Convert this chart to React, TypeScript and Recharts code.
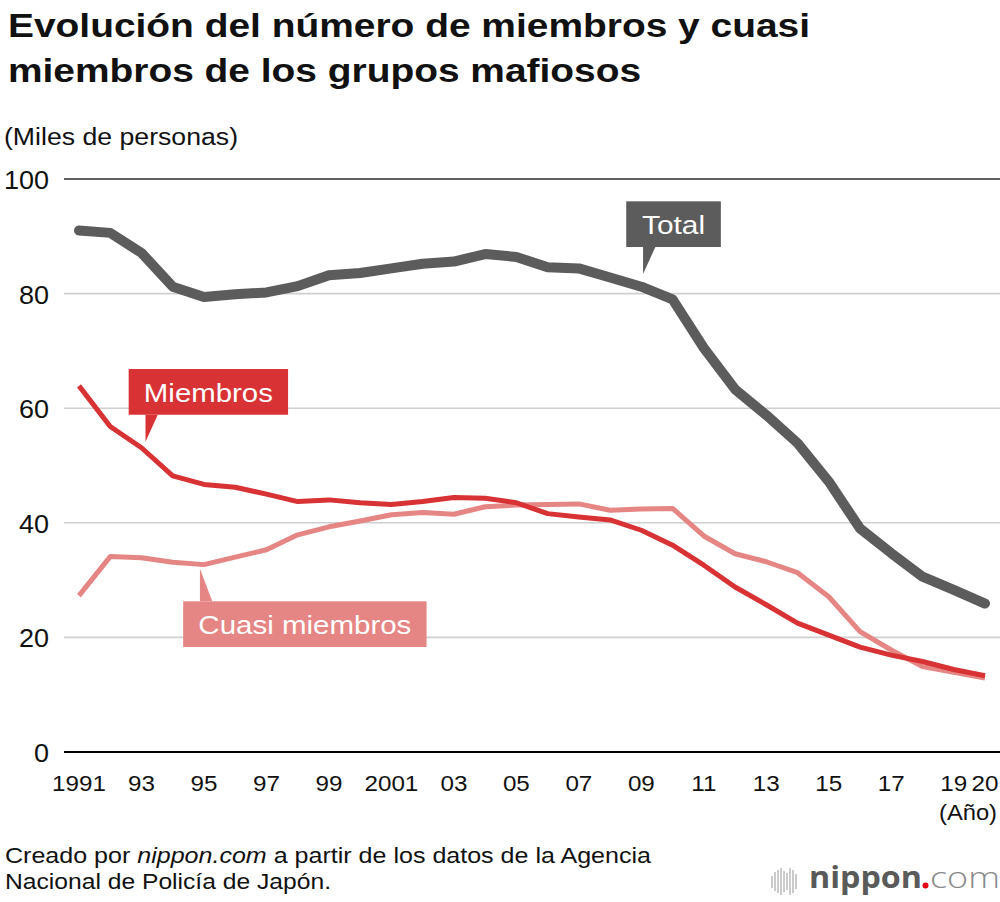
import React from 'react';
import {
  LineChart,
  Line,
  XAxis,
  YAxis,
  CartesianGrid,
  ReferenceLine,
  ReferenceDot,
} from 'recharts';

// miles de personas, 1991-2020 (Agencia Nacional de Policía de Japón)
const years = [
  1991, 1992, 1993, 1994, 1995, 1996, 1997, 1998, 1999, 2000,
  2001, 2002, 2003, 2004, 2005, 2006, 2007, 2008, 2009, 2010,
  2011, 2012, 2013, 2014, 2015, 2016, 2017, 2018, 2019, 2020,
];
const totalValues = [
  91.0, 90.6, 87.1, 81.2, 79.4, 79.9, 80.2, 81.3, 83.2, 83.6,
  84.4, 85.2, 85.6, 86.9, 86.4, 84.6, 84.4, 82.8, 81.2, 79.0,
  70.5, 63.3, 58.8, 53.9, 47.2, 39.0, 34.7, 30.6, 28.3, 25.9,
];
const memberValues = [
  63.9, 56.8, 53.1, 48.2, 46.7, 46.2, 45.0, 43.7, 44.0, 43.5,
  43.2, 43.7, 44.4, 44.3, 43.5, 41.6, 41.0, 40.5, 38.7, 36.1,
  32.6, 28.8, 25.7, 22.5, 20.4, 18.3, 16.9, 15.8, 14.4, 13.3,
];
const quasiValues = [
  27.3, 34.1, 33.9, 33.1, 32.7, 34.0, 35.3, 37.9, 39.3, 40.3,
  41.4, 41.8, 41.5, 42.8, 43.1, 43.2, 43.3, 42.2, 42.4, 42.5,
  37.7, 34.6, 33.2, 31.3, 27.1, 21.0, 17.8, 14.9, 13.9, 12.9,
];
const xTicks = [1991, 1993, 1995, 1997, 1999, 2001, 2003, 2005, 2007, 2009, 2011, 2013, 2015, 2017, 2019, 2020];
const xTickLabels = ['1991', '93', '95', '97', '99', '2001', '03', '05', '07', '09', '11', '13', '15', '17', '19', '20'];
const yTicks = [0, 20, 40, 60, 80, 100];

const data = years.map((year, i) => ({
  year,
  total: totalValues[i],
  members: memberValues[i],
  quasi: quasiValues[i],
}));

const FONT = '"Liberation Sans", Arial, Helvetica, sans-serif';
const GRAY = '#5c5c5c';
const RED = '#d83234';
const PINK = '#e58584';

const XTick = (props: any) => {
  const { x, y, payload } = props;
  const idx = xTicks.indexOf(payload.value);
  return (
    <g transform={`translate(${x},${y + 39})`}>
      <text textAnchor="middle" fontSize={22} fill="#111" fontFamily={FONT} transform="scale(1.1,1)">
        {xTickLabels[idx]}
      </text>
    </g>
  );
};

const YTick = (props: any) => {
  const { x, y, payload } = props;
  return (
    <g transform={`translate(${x - 15},${y + 10})`}>
      <text textAnchor="end" fontSize={25} fill="#111" fontFamily={FONT} transform="scale(1.08,1)">
        {payload.value}
      </text>
    </g>
  );
};

// callout box with a pointer; (dx, dy) moves the pointer tip away from the data point
const makeCallout = (opts: {
  label: string; color: string; dx: number; dy: number;
  w: number; textW: number; up: boolean;
}) => (props: any) => {
  const { cx, cy } = props;
  const tx = cx + opts.dx;
  const ty = cy + opts.dy;
  const h = 45.7;
  const gap = opts.up ? 27 : 32.7;
  const bx = tx - 16.8;
  const by = opts.up ? ty - gap - h : ty + gap;
  const baseY = opts.up ? ty - gap : ty + gap;
  return (
    <g>
      <polygon points={`${tx},${ty} ${tx},${baseY} ${tx + 12.3},${baseY}`} fill={opts.color} />
      <rect x={bx} y={by} width={opts.w} height={h} fill={opts.color} />
      <text
        x={bx + opts.w / 2}
        y={by + h - 13}
        textAnchor="middle"
        fontSize={26}
        fill="#fff"
        fontFamily={FONT}
        textLength={opts.textW}
        lengthAdjust="spacingAndGlyphs"
      >
        {opts.label}
      </text>
    </g>
  );
};

const TotalCallout = makeCallout({ label: 'Total', color: GRAY, dx: 1.7, dy: -12.7, w: 94.6, textW: 63, up: true });
const MembersCallout = makeCallout({ label: 'Miembros', color: RED, dx: 4, dy: -6, w: 159.4, textW: 129, up: true });
const QuasiCallout = makeCallout({ label: 'Cuasi miembros', color: PINK, dx: -4, dy: 4, w: 243.4, textW: 213, up: false });

const LogoBars = () => {
  const bars = [
    [772, 876, 888], [775, 872, 891], [778, 870, 893], [781, 868, 895],
    [784, 871, 892], [787, 873, 890], [790, 868, 895], [793, 870, 893], [796, 874, 889],
  ];
  return (
    <g>
      {bars.map(([x, y1, y2], i) => (
        <line key={i} x1={x} x2={x} y1={y1} y2={y2} stroke="#b5b5b5" strokeWidth={1.4} />
      ))}
    </g>
  );
};

const App: React.FC = () => {
  return (
    <div style={{ position: 'relative', width: 1000, height: 902, background: '#fff', fontFamily: FONT }}>
      <style>{'body{margin:0}'}</style>
      <LineChart
        width={1000}
        height={902}
        data={data}
        margin={{ top: 179, right: 0, bottom: 120, left: 0 }}
        style={{ position: 'absolute', left: 0, top: 0 }}
      >
        <CartesianGrid vertical={false} stroke="#cfcfcf" strokeWidth={1.6} />
        <XAxis
          dataKey="year"
          type="number"
          domain={[1990.52, 2020.48]}
          ticks={xTicks}
          interval={0}
          tick={<XTick />}
          tickLine={false}
          tickSize={0}
          tickMargin={0}
          height={30}
          axisLine={{ stroke: '#000', strokeWidth: 2 }}
          allowDataOverflow
        />
        <YAxis
          type="number"
          domain={[0, 100]}
          ticks={yTicks}
          interval={0}
          tick={<YTick />}
          tickLine={false}
          tickSize={0}
          tickMargin={0}
          axisLine={false}
          width={64}
        />
        <ReferenceLine y={100} stroke="#606060" strokeWidth={2} />
        <Line
          type="linear"
          dataKey="quasi"
          stroke={PINK}
          strokeWidth={5}
          dot={false}
          activeDot={false}
          strokeLinejoin="round"
          isAnimationActive={false}
        />
        <Line
          type="linear"
          dataKey="members"
          stroke={RED}
          strokeWidth={5}
          dot={false}
          activeDot={false}
          strokeLinejoin="round"
          isAnimationActive={false}
        />
        <Line
          type="linear"
          dataKey="total"
          stroke={GRAY}
          strokeWidth={10}
          dot={false}
          activeDot={false}
          strokeLinejoin="round"
          strokeLinecap="round"
          isAnimationActive={false}
        />
        <ReferenceDot x={2009} y={totalValues[18]} r={0} shape={TotalCallout} />
        <ReferenceDot x={1993} y={memberValues[2]} r={0} shape={MembersCallout} />
        <ReferenceDot x={1995} y={quasiValues[4]} r={0} shape={QuasiCallout} />
      </LineChart>

      <svg
        width={1000}
        height={902}
        style={{ position: 'absolute', left: 0, top: 0, pointerEvents: 'none' }}
      >
        <text x={8} y={37} fontSize={34} fontWeight="bold" fill="#111" fontFamily={FONT}
          textLength={802} lengthAdjust="spacingAndGlyphs">
          Evolución del número de miembros y cuasi
        </text>
        <text x={8} y={82} fontSize={34} fontWeight="bold" fill="#111" fontFamily={FONT}
          textLength={633} lengthAdjust="spacingAndGlyphs">
          miembros de los grupos mafiosos
        </text>
        <text x={4} y={145} fontSize={23} fill="#111" fontFamily={FONT}
          textLength={234} lengthAdjust="spacingAndGlyphs">
          (Miles de personas)
        </text>
        <text x={997} y={820} fontSize={22} fill="#111" fontFamily={FONT} textAnchor="end"
          textLength={58} lengthAdjust="spacingAndGlyphs">
          (Año)
        </text>
        <text x={5} y={863} fontSize={22} fill="#111" fontFamily={FONT}
          textLength={646} lengthAdjust="spacingAndGlyphs">
          Creado por <tspan fontStyle="italic">nippon.com</tspan> a partir de los datos de la Agencia
        </text>
        <text x={5} y={889} fontSize={22} fill="#111" fontFamily={FONT}
          textLength={326} lengthAdjust="spacingAndGlyphs">
          Nacional de Policía de Japón.
        </text>
        <LogoBars />
        <text x={809} y={888} fontSize={30} fontWeight={700} fill="#5a5a5a" fontFamily='"Open Sans", sans-serif'
          textLength={113} lengthAdjust="spacingAndGlyphs">
          nippon
        </text>
        <circle cx={925.5} cy={885.5} r={3} fill="#e60012" />
        <text x={930} y={888} fontSize={30} fontWeight={300} fill="#8a8a8a" fontFamily='"Open Sans", sans-serif'
          textLength={70} lengthAdjust="spacingAndGlyphs">
          com
        </text>
      </svg>
    </div>
  );
};

export default App;
